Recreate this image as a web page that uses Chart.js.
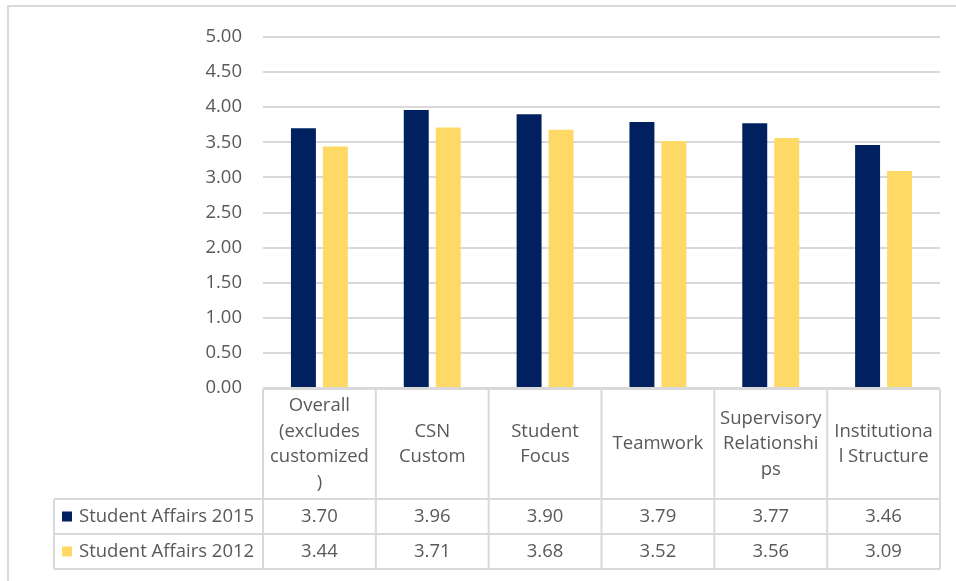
<!DOCTYPE html>
<html>
<head>
<meta charset="utf-8">
<title>Student Affairs 2015 vs 2012</title>
<script src="https://cdn.jsdelivr.net/npm/chart.js@4.4.0/dist/chart.umd.min.js"></script>
<style>
  html, body { margin: 0; padding: 0; background: #ffffff; }
  #wrap { width: 956px; height: 581px; position: relative; }
</style>
</head>
<body>
<div id="wrap"><canvas id="chart" width="956" height="581"></canvas></div>
<script>
  // Category headers, already broken into the lines shown in the table header
  var CATEGORIES = [
    ['Overall', '(excludes', 'customized', ')'],
    ['CSN', 'Custom'],
    ['Student', 'Focus'],
    ['Teamwork'],
    ['Supervisory', 'Relationshi', 'ps'],
    ['Institutiona', 'l Structure']
  ];
  var SERIES_NAMES = ['Student Affairs 2015', 'Student Affairs 2012'];
  var VALUES_2015 = [3.70, 3.96, 3.90, 3.79, 3.77, 3.46];
  var VALUES_2012 = [3.44, 3.71, 3.68, 3.52, 3.56, 3.09];
  var Y_MIN = 0, Y_MAX = 5, Y_STEP = 0.5;

  var NAVY = '#002060';
  var GOLD = '#FFD966';
  var TEXT = '#595959';
  var RULE = '#d9d9d9';
  var FONT_FAMILY = '"Open Sans", sans-serif';
  var FONT_SIZE = 18.5;

  // Outer frame: left and top edges of the surrounding chart box
  var framePlugin = {
    id: 'frame',
    beforeDraw: function (chart) {
      var ctx = chart.ctx;
      ctx.save();
      ctx.strokeStyle = RULE;
      ctx.lineWidth = 2;
      ctx.beginPath();
      ctx.moveTo(8, chart.height);
      ctx.lineTo(8, 6);
      ctx.lineTo(chart.width, 6);
      ctx.stroke();
      ctx.restore();
    }
  };

  // Data table under the plot: header row with categories, then one row per series
  var tablePlugin = {
    id: 'dataTable',
    afterDraw: function (chart) {
      var ctx = chart.ctx;
      var area = chart.chartArea;
      var n = CATEGORIES.length;
      var colW = (area.right - area.left) / n;
      var top = area.bottom + 1;
      var headBottom = 499;
      var rowH = 35;
      var legendLeft = 54;
      var bottom = headBottom + rowH * SERIES_NAMES.length;
      var series = [VALUES_2015, VALUES_2012];
      var colors = [NAVY, GOLD];

      ctx.save();
      ctx.strokeStyle = RULE;
      ctx.lineWidth = 2;
      ctx.beginPath();
      // header top and row lines
      ctx.moveTo(area.left, top); ctx.lineTo(area.right, top);
      for (var r = 0; r <= SERIES_NAMES.length; r++) {
        var y = headBottom + r * rowH;
        ctx.moveTo(legendLeft, y); ctx.lineTo(area.right, y);
      }
      // column separators
      for (var c = 0; c <= n; c++) {
        var x = area.left + c * colW;
        ctx.moveTo(x, top); ctx.lineTo(x, bottom);
      }
      ctx.moveTo(legendLeft, headBottom); ctx.lineTo(legendLeft, bottom);
      ctx.stroke();

      ctx.fillStyle = TEXT;
      ctx.font = FONT_SIZE + 'px ' + FONT_FAMILY;
      ctx.textAlign = 'center';
      ctx.textBaseline = 'middle';
      var lineH = 25.5;
      var headMid = (top + headBottom) / 2;
      CATEGORIES.forEach(function (lines, i) {
        var cx = chart.scales.x.getPixelForValue(i);
        var y0 = headMid - (lines.length - 1) * lineH / 2;
        lines.forEach(function (line, k) {
          ctx.fillText(line, cx, y0 + k * lineH);
        });
      });

      series.forEach(function (vals, s) {
        var cy = headBottom + s * rowH + rowH / 2;
        ctx.textAlign = 'center';
        ctx.fillStyle = TEXT;
        vals.forEach(function (v, i) {
          ctx.fillText(v.toFixed(2), chart.scales.x.getPixelForValue(i), cy);
        });
        ctx.fillStyle = colors[s];
        ctx.fillRect(62, cy - 5, 10, 10);
        ctx.fillStyle = TEXT;
        ctx.textAlign = 'left';
        ctx.fillText(SERIES_NAMES[s], 79, cy);
      });
      ctx.restore();
    }
  };

  var barStyle = { categoryPercentage: 0.567, barPercentage: 0.78, borderWidth: 0 };

  new Chart(document.getElementById('chart'), {
    type: 'bar',
    data: {
      labels: CATEGORIES,
      datasets: [
        Object.assign({ label: SERIES_NAMES[0], data: VALUES_2015, backgroundColor: NAVY }, barStyle),
        Object.assign({ label: SERIES_NAMES[1], data: VALUES_2012, backgroundColor: GOLD }, barStyle)
      ]
    },
    options: {
      responsive: false,
      animation: false,
      devicePixelRatio: 1,
      layout: { padding: { top: 37, right: 16, bottom: 193, left: 0 } },
      plugins: {
        legend: { display: false },
        tooltip: { enabled: false }
      },
      scales: {
        x: { display: false },
        y: {
          min: Y_MIN,
          max: Y_MAX,
          afterFit: function (scale) { scale.width = 263; },
          border: { display: false },
          grid: { color: RULE, lineWidth: 2, drawTicks: false },
          ticks: {
            stepSize: Y_STEP,
            padding: 21,
            color: TEXT,
            font: { family: FONT_FAMILY, size: FONT_SIZE },
            callback: function (v) { return v.toFixed(2); }
          }
        }
      }
    },
    plugins: [framePlugin, tablePlugin]
  });
</script>
</body>
</html>
